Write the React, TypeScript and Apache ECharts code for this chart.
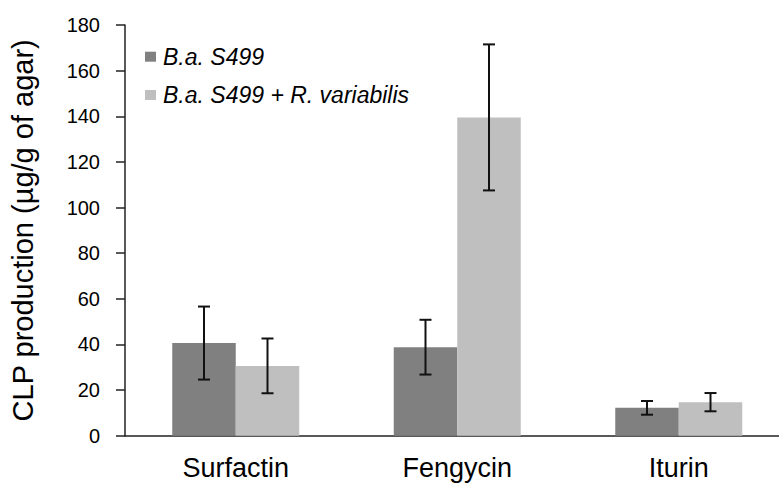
import React, { useEffect, useRef } from "react";
import * as echarts from "echarts";

const categories = ["Surfactin", "Fengycin", "Iturin"];
const seriesNames = ["B.a. S499", "B.a. S499 + R. variabilis"];
const valuesA = [40.6, 38.8, 12.2];
const errorsA = [16, 12, 3];
const valuesB = [30.6, 139.5, 14.7];
const errorsB = [12, 32, 4];
const yTicks = { min: 0, max: 180, interval: 20 };

const FONT = "'Liberation Sans', Arial, Helvetica, sans-serif";
const BAR_W = 63.5;

function errorSeries(values: number[], errors: number[], offset: number) {
  return {
    type: "custom",
    name: "err" + offset,
    z: 10,
    silent: true,
    data: values.map((v, i) => [i, v, errors[i]]),
    encode: { x: 0, y: 1 },
    renderItem: (params: any, api: any) => {
      const i = api.value(0);
      const v = api.value(1);
      const e = api.value(2);
      const x = api.coord([i, v])[0] + offset;
      const yTop = api.coord([i, v + e])[1];
      const yBot = api.coord([i, v - e])[1];
      const style = { stroke: "#111", lineWidth: 2 };
      const cap = 6;
      return {
        type: "group",
        children: [
          { type: "line", shape: { x1: x, y1: yTop, x2: x, y2: yBot }, style },
          { type: "line", shape: { x1: x - cap, y1: yTop, x2: x + cap, y2: yTop }, style },
          { type: "line", shape: { x1: x - cap, y1: yBot, x2: x + cap, y2: yBot }, style },
        ],
      };
    },
  };
}

export default function App() {
  const ref = useRef<HTMLDivElement>(null);
  useEffect(() => {
    if (!ref.current) return;
    const chart = echarts.init(ref.current, null, { renderer: "svg" });
    chart.setOption({
      animation: false,
      backgroundColor: "#fff",
      textStyle: { fontFamily: FONT, color: "#000" },
      grid: { left: 125, top: 25, width: 664.5, height: 410.7, containLabel: false },
      legend: {
        orient: "vertical",
        left: 145,
        top: 44.7,
        padding: 0,
        itemGap: 14.3,
        itemWidth: 11,
        itemHeight: 10,
        icon: "rect",
        data: seriesNames,
        textStyle: {
          fontFamily: FONT,
          fontSize: 23,
          fontStyle: "italic",
          color: "#000",
          lineHeight: 24,
          padding: [0, 0, 0, 2],
        },
      },
      xAxis: {
        type: "category",
        data: categories,
        axisLine: { show: true, lineStyle: { color: "#222", width: 1.5 } },
        axisTick: { show: false },
        axisLabel: { fontSize: 27, color: "#000", margin: 19, fontFamily: FONT },
      },
      yAxis: {
        type: "value",
        min: yTicks.min,
        max: yTicks.max,
        interval: yTicks.interval,
        name: "CLP production (µg/g of agar)",
        nameLocation: "middle",
        nameGap: 88,
        nameTextStyle: { fontSize: 29, color: "#000", fontFamily: FONT },
        splitLine: { show: false },
        axisLine: { show: true, lineStyle: { color: "#222", width: 1.5 } },
        axisTick: { show: true, length: 9, lineStyle: { color: "#222", width: 1.5 } },
        axisLabel: { fontSize: 20, color: "#000", margin: 25, fontFamily: FONT },
      },
      series: [
        {
          type: "bar",
          name: seriesNames[0],
          data: valuesA,
          barWidth: BAR_W,
          barGap: "0%",
          itemStyle: { color: "#808080" },
        },
        {
          type: "bar",
          name: seriesNames[1],
          data: valuesB,
          barWidth: BAR_W,
          barGap: "0%",
          itemStyle: { color: "#bfbfbf" },
        },
        errorSeries(valuesA, errorsA, -BAR_W / 2),
        errorSeries(valuesB, errorsB, BAR_W / 2),
      ],
    });
    return () => chart.dispose();
  }, []);
  return (
    <div
      style={{
        position: "fixed",
        left: 0,
        top: 0,
        width: 779,
        height: 484,
        overflow: "hidden",
        background: "#fff",
      }}
    >
      <div ref={ref} style={{ width: 800, height: 484 }} />
    </div>
  );
}
